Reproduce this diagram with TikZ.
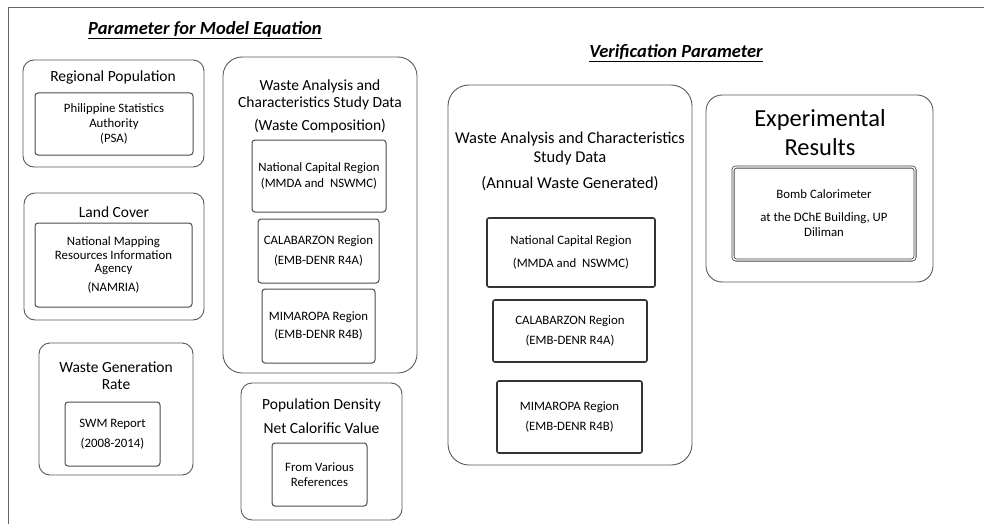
\documentclass[tikz,border=0pt]{standalone}
\usepackage{fontspec}
\setmainfont{Carlito}
\usetikzlibrary{positioning}
\tikzset{
  every picture/.style={line width=0.7pt},
  sOuter/.style={draw=black!65, rounded corners=11pt, line width=0.9pt, inner sep=0pt},
  sBig/.style={sOuter, rounded corners=19pt},
  sInner/.style={draw=black!70, rounded corners=3pt, line width=1pt, inner sep=0pt,
                 align=center, font=\fontsize{12.8}{14.5}\selectfont},
  sInnerV/.style={sInner, draw=black!80, line width=1.6pt, rounded corners=2pt},
  sHead/.style={align=center, font=\fontsize{15.5}{17}\selectfont},
  sTitle/.style={font=\fontsize{18.5}{22}\selectfont\bfseries\itshape},
}
\begin{document}
\begin{tikzpicture}[x=1pt,y=-1pt]
  \useasboundingbox (0,0) rectangle (984,524);
  \draw[black!60, line width=1pt] (8,524) -- (8,8) -- (984,8);
  % titles
  \node[sTitle] (modeltitle) at (205,30) {\underline{Parameter for Model Equation}};
  \node[sTitle] (vertitle) at (676,53) {\underline{Verification Parameter}};
  % regional population
  \node[sOuter, minimum width=181pt, minimum height=107pt] (popbox) at (113.5,113.5) {};
  \node[sHead] (pophead) at (113,77) {Regional Population};
  \node[sInner, minimum width=158pt, minimum height=62pt] (popsrc) at (114,124)
    {Philippine Statistics\\Authority\\[1pt](PSA)};
  % land cover
  \node[sOuter, minimum width=180pt, minimum height=127pt] (landbox) at (114,256.5) {};
  \node[sHead] (landhead) at (114,212) {Land Cover};
  \node[sInner, minimum width=157pt, minimum height=84pt] (landsrc) at (113.5,265)
    {National Mapping\\[-1pt]Resources Information\\[-1pt]Agency\\[4pt](NAMRIA)};
  % waste generation rate
  \node[sOuter, minimum width=154pt, minimum height=132pt] (genbox) at (116,409) {};
  \node[sHead] (genhead) at (116,375.5) {Waste Generation\\Rate};
  \node[sInner, minimum width=95pt, minimum height=64pt] (gensrc) at (112.5,434)
    {SWM Report\\[5pt](2008-2014)};
  % waste composition
  \node[sBig, minimum width=194pt, minimum height=316pt] (compbox) at (320,215) {};
  \node[sHead] (comphead) at (320,106) {Waste Analysis and\\Characteristics Study Data\\[6pt](Waste Composition)};
  \node[sInner, minimum width=134pt, minimum height=72pt] (compncr) at (319,176)
    {National Capital Region\\[2pt](MMDA and~ NSWMC)};
  \node[sInner, minimum width=121pt, minimum height=64pt] (compcal) at (318.5,251)
    {CALABARZON Region\\[5pt](EMB-DENR R4A)};
  \node[sInner, minimum width=113pt, minimum height=74pt] (compmim) at (318.5,326)
    {MIMAROPA Region\\[4pt](EMB-DENR R4B)};
  % density and calorific value
  \node[sOuter, minimum width=161pt, minimum height=137pt] (densbox) at (321.5,451.5) {};
  \node[sHead] (denshead) at (321.5,416) {Population Density\\[7pt]Net Calorific Value};
  \node[sInner, minimum width=95pt, minimum height=63pt] (denssrc) at (319.5,474.5)
    {From Various\\References};
  % annual waste generated
  \node[sBig, rounded corners=21pt, minimum width=244pt, minimum height=380pt] (verbox) at (570,275) {};
  \node[sHead, font=\fontsize{16.5}{19}\selectfont] (verhead) at (570,161)
    {Waste Analysis and Characteristics\\Study Data\\[7pt](Annual Waste Generated)};
  \node[sInnerV, minimum width=168pt, minimum height=69pt] (verncr) at (571,252.5)
    {National Capital Region\\[8pt](MMDA and~ NSWMC)};
  \node[sInnerV, minimum width=154pt, minimum height=62pt] (vercal) at (570,331)
    {CALABARZON Region\\[6pt](EMB-DENR R4A)};
  \node[sInnerV, minimum width=145pt, minimum height=72pt] (vermim) at (569.5,417)
    {MIMAROPA Region\\[6pt](EMB-DENR R4B)};
  % experimental results
  \node[sOuter, rounded corners=16pt, minimum width=227pt, minimum height=187pt] (expbox) at (819.5,188.5) {};
  \node[sHead, font=\fontsize{24.5}{29}\selectfont] (exphead) at (820,132.5) {Experimental\\Results};
  \node[sInner, draw=black!75, double, double distance=1.4pt, line width=0.8pt,
        minimum width=182pt, minimum height=93pt] (expsrc) at (824,213.5)
    {Bomb Calorimeter\\[8pt]at the DChE Building, UP\\[1pt]Diliman};
\end{tikzpicture}
\end{document}
